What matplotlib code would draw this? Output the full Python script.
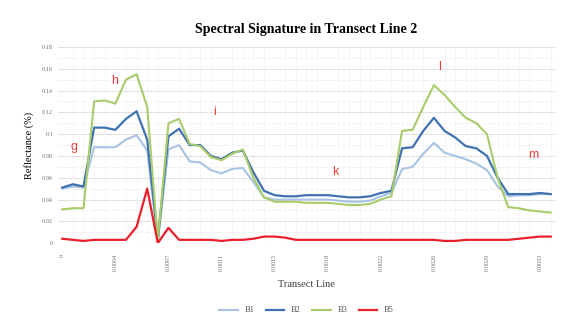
import numpy as np
import matplotlib.pyplot as plt
from matplotlib.ticker import MultipleLocator

# reflectance along the transect, one value per sample point
b1 = [0.050, 0.052, 0.051, 0.088, 0.088, 0.088, 0.095, 0.099, 0.085, 0.002,
      0.086, 0.090, 0.075, 0.074, 0.067, 0.064, 0.068, 0.069, 0.056, 0.042,
      0.040, 0.040, 0.040, 0.040, 0.040, 0.040, 0.039, 0.038, 0.038, 0.039,
      0.043, 0.046, 0.068, 0.070, 0.082, 0.092, 0.083, 0.080, 0.077, 0.073,
      0.067, 0.052, 0.043, 0.044, 0.044, 0.045, 0.045]
b2 = [0.051, 0.054, 0.052, 0.106, 0.106, 0.104, 0.114, 0.121, 0.095, 0.003,
      0.098, 0.105, 0.090, 0.090, 0.080, 0.077, 0.083, 0.085, 0.065, 0.048,
      0.044, 0.043, 0.043, 0.044, 0.044, 0.044, 0.043, 0.042, 0.042, 0.043,
      0.046, 0.048, 0.087, 0.088, 0.103, 0.115, 0.103, 0.097, 0.089, 0.087,
      0.080, 0.060, 0.045, 0.045, 0.045, 0.046, 0.045]
b3 = [0.031, 0.032, 0.032, 0.130, 0.131, 0.128, 0.150, 0.155, 0.125, 0.002,
      0.110, 0.114, 0.091, 0.089, 0.079, 0.076, 0.082, 0.086, 0.060, 0.042,
      0.038, 0.038, 0.038, 0.037, 0.037, 0.037, 0.036, 0.035, 0.035, 0.036,
      0.040, 0.043, 0.103, 0.104, 0.125, 0.145, 0.136, 0.125, 0.115, 0.110,
      0.100, 0.060, 0.033, 0.032, 0.030, 0.029, 0.028]
b5 = [0.004, 0.003, 0.002, 0.003, 0.003, 0.003, 0.003, 0.015, 0.050, 0.000,
      0.014, 0.003, 0.003, 0.003, 0.003, 0.002, 0.003, 0.003, 0.004, 0.006,
      0.006, 0.005, 0.003, 0.003, 0.003, 0.003, 0.003, 0.003, 0.003, 0.003,
      0.003, 0.003, 0.003, 0.003, 0.003, 0.003, 0.002, 0.002, 0.003, 0.003,
      0.003, 0.003, 0.003, 0.004, 0.005, 0.006, 0.006]
xlabels = ["0", "0.0004", "0.0007", "0.0011", "0.0015",
           "0.0018", "0.0022", "0.0026", "0.0029", "0.0033"]
zones = ["g", "h", "i", "k", "l", "m"]
zone_x = [1.1, 4.9, 14.3, 25.7, 35.5, 44.4]
zone_y = [0.088, 0.149, 0.120, 0.065, 0.162, 0.081]

plt.rcParams['font.family'] = ['Liberation Serif', 'DejaVu Serif']

fig = plt.figure(figsize=(5.86, 3.22), dpi=100)
ax = fig.add_axes([0.099, 0.245, 0.848, 0.609])

x = np.arange(len(b2))
ax.plot(x, b1, color="#a8c3e4", lw=1.5, label="B1")
ax.plot(x, b2, color="#3f72b0", lw=1.6, label="B2")
ax.plot(x, b3, color="#a9cc6a", lw=1.5, label="B3")
ax.plot(x, b5, color="#e8202c", lw=1.6, label="B5")

for t, tx, ty in zip(zones, zone_x, zone_y):
    ax.text(tx, ty, t, color="#e8403a", fontsize=9, family="Liberation Sans",
            ha="center", va="center")

ax.set_xlim(-0.4, len(b2) - 0.6)
ax.set_ylim(0, 0.18)
ax.yaxis.set_minor_locator(MultipleLocator(0.01))
ax.set_yticks(np.arange(0, 0.181, 0.02))
ax.set_yticklabels(["0"] + ["%g" % v for v in np.arange(0.02, 0.181, 0.02)])
ax.set_xticks(np.arange(0, len(b2), 5))
ax.set_xticklabels(xlabels, rotation=90)
ax.xaxis.set_minor_locator(MultipleLocator(1))

ax.grid(True, which="major", axis="y", color="#dcdcdc", lw=0.6)
ax.grid(True, which="minor", axis="y", color="#f0f0f0", lw=0.5)
ax.grid(True, which="minor", axis="x", color="#f3f3f3", lw=0.5)
ax.set_axisbelow(True)
for s in ax.spines.values():
    s.set_visible(False)
ax.tick_params(which="both", length=0, labelsize=4.5, labelcolor="#707070")
ax.tick_params(axis="x", pad=8)

ax.set_title("Spectral Signature in Transect Line 2", fontsize=10,
             fontweight="bold", pad=10)
ax.set_ylabel("Reflectance (%)", fontsize=7.5, labelpad=6)
ax.set_xlabel("Transect Line", fontsize=7.5, labelpad=6, color="#404040")
ax.legend(loc="upper center", bbox_to_anchor=(0.5, -0.285), ncol=4,
          frameon=False, fontsize=6, handlelength=2.2, columnspacing=1.4,
          labelcolor="#555555")

fig.savefig("out.png", dpi=100)
